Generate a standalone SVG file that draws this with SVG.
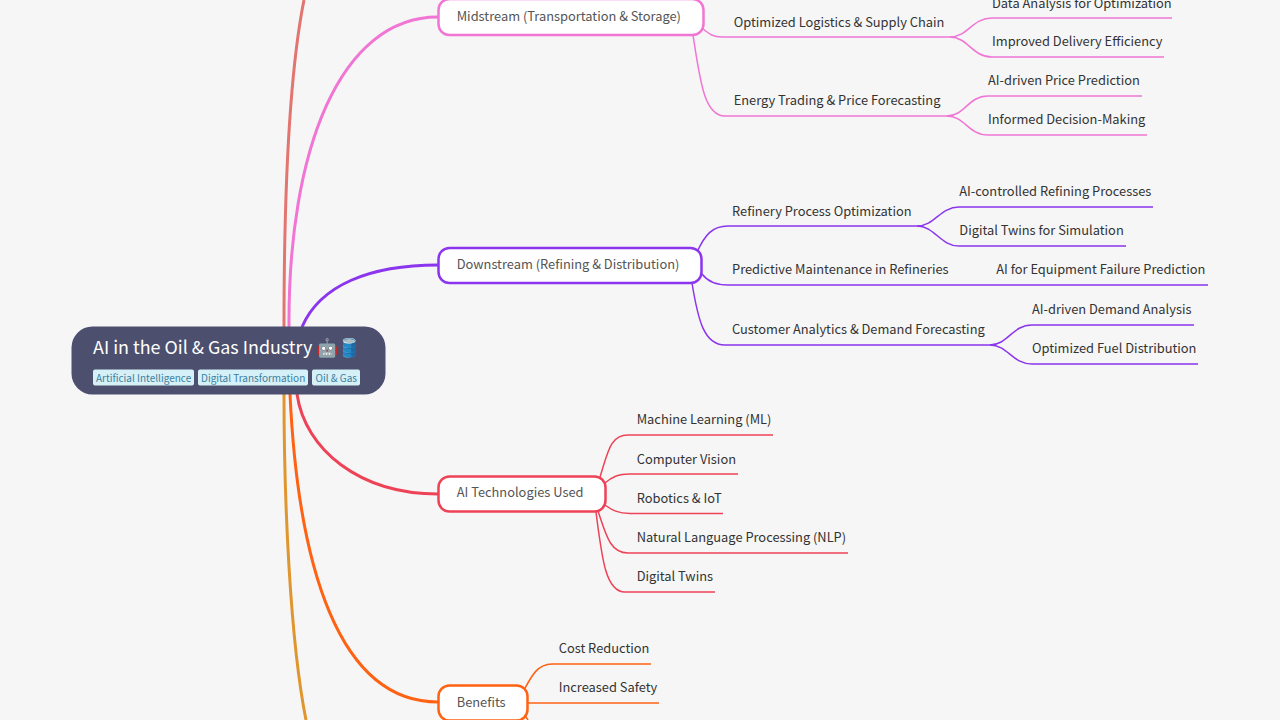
<svg xmlns="http://www.w3.org/2000/svg" width="1280" height="720" viewBox="0 0 1280 720">
<style>
text{font-family:"Noto Sans CJK SC","Noto Sans",sans-serif;font-size:12.850px;fill:#333}
.b{fill:#fff;stroke-width:2.500}
.bt{fill:#555}
.c{fill:none;stroke-width:1.500}
.m{fill:none;stroke-width:3}
.pk{stroke:#f075d4}.pu{stroke:#8b35ee}.rd{stroke:#ee4257}.or{stroke:#ff6213}
.tag{fill:#d6f0f8}
.tt{font-size:10px;fill:#3a7f9e}
</style>
<rect width="1280" height="720" fill="#f6f6f6"/>
<g id="connectors">
<path class="m" style="stroke:#e27570" d="M284 327C284 200 288 80 304 0"/>
<path class="m pk" d="M289 327C288 150 340 17 438 17"/>
<path class="m pu" d="M302 327C320 285 370 265 438 265"/>
<path class="m rd" d="M297 394C305 450 360 494 438 494"/>
<path class="m or" d="M290 394C298 565 338 702 438 702"/>
<path class="m" style="stroke:#e0962e" d="M284 394C284 500 290 640 306 720"/>
<path class="c pk" d="M702 28C708 33 712 37 722 37H950"/>
<path class="c pk" d="M693 35C700 80 704 116 725 116H947"/>
<path class="c pk" d="M950 37C968 37 972 18 992 18H1172"/>
<path class="c pk" d="M950 37C968 37 972 57 992 57H1164"/>
<path class="c pk" d="M947 116C965 116 968 96 988 96H1142"/>
<path class="c pk" d="M947 116C965 116 968 135 988 135H1147"/>
<path class="c pu" d="M697 252C705 235 712 226 728 226H917"/>
<path class="c pu" d="M702 274C708 282 716 285 728 285H1208"/>
<path class="c pu" d="M692 283C698 320 704 345 725 345H990"/>
<path class="c pu" d="M917 226C935 226 940 207 959 207H1153"/>
<path class="c pu" d="M917 226C935 226 940 246 959 246H1126"/>
<path class="c pu" d="M990 345C1008 345 1012 325 1032 325H1194"/>
<path class="c pu" d="M990 345C1008 345 1012 364 1032 364H1198"/>
<path class="c rd" d="M600 477C608 452 610 435 628 435H773"/>
<path class="c rd" d="M605 483C612 477 618 474 630 474H738"/>
<path class="c rd" d="M605 505C612 510 618 513.500 630 513.500H723"/>
<path class="c rd" d="M598 511C606 535 610 553 628 553H848"/>
<path class="c rd" d="M596 512C602 560 606 592 625 592H715"/>
<path class="c or" d="M524 690C532 675 538 664 552 664H651"/>
<path class="c or" d="M528 703H659"/>
<path class="c or" d="M524 714L528 720"/>
</g>
<g id="root">
<rect x="71.500" y="326.500" width="314" height="68" rx="21" fill="#4d4f6e"/>
<text x="93" y="354" style="font-size:17.900px;fill:#fff">AI in the Oil &amp; Gas Industry 🤖🛢️</text>
<rect class="tag" x="93" y="369.500" width="101" height="16" rx="2"/><text class="tt" x="96" y="382">Artificial Intelligence</text>
<rect class="tag" x="198" y="369.500" width="110" height="16" rx="2"/><text class="tt" x="201" y="382">Digital Transformation</text>
<rect class="tag" x="312" y="369.500" width="48" height="16" rx="2"/><text class="tt" x="315.500" y="382">Oil &amp; Gas</text>
</g>
<g id="midstream"><rect class="b pk" x="438.500" y="-1" width="265" height="36" rx="11"/><text class="bt" x="456.700" y="21">Midstream (Transportation &amp; Storage)</text></g>
<g id="downstream"><rect class="b pu" x="438.500" y="248" width="263" height="35" rx="11"/><text class="bt" x="456.700" y="269">Downstream (Refining &amp; Distribution)</text></g>
<g id="aitech"><rect class="b rd" x="438.500" y="476.500" width="167" height="35" rx="11"/><text class="bt" x="456.700" y="497">AI Technologies Used</text></g>
<g id="benefits"><rect class="b or" x="438.500" y="685.500" width="89" height="35" rx="11"/><text class="bt" x="456.700" y="706.500">Benefits</text></g>
<g id="labels">
<text x="733.700" y="27">Optimized Logistics &amp; Supply Chain</text>
<text x="992" y="8">Data Analysis for Optimization</text>
<text x="992" y="46">Improved Delivery Efficiency</text>
<text x="733.700" y="105">Energy Trading &amp; Price Forecasting</text>
<text x="988" y="85">AI-driven Price Prediction</text>
<text x="988" y="124">Informed Decision-Making</text>
<text x="732" y="216">Refinery Process Optimization</text>
<text x="959.300" y="196">AI-controlled Refining Processes</text>
<text x="959.300" y="235">Digital Twins for Simulation</text>
<text x="732" y="274">Predictive Maintenance in Refineries</text>
<text x="996.300" y="274">AI for Equipment Failure Prediction</text>
<text x="732" y="334">Customer Analytics &amp; Demand Forecasting</text>
<text x="1032" y="314">AI-driven Demand Analysis</text>
<text x="1032" y="353">Optimized Fuel Distribution</text>
<text x="636.700" y="424">Machine Learning (ML)</text>
<text x="636.700" y="464">Computer Vision</text>
<text x="636.700" y="503">Robotics &amp; IoT</text>
<text x="636.700" y="542">Natural Language Processing (NLP)</text>
<text x="636.700" y="581">Digital Twins</text>
<text x="558.700" y="653">Cost Reduction</text>
<text x="558.700" y="692">Increased Safety</text>
</g>
</svg>
